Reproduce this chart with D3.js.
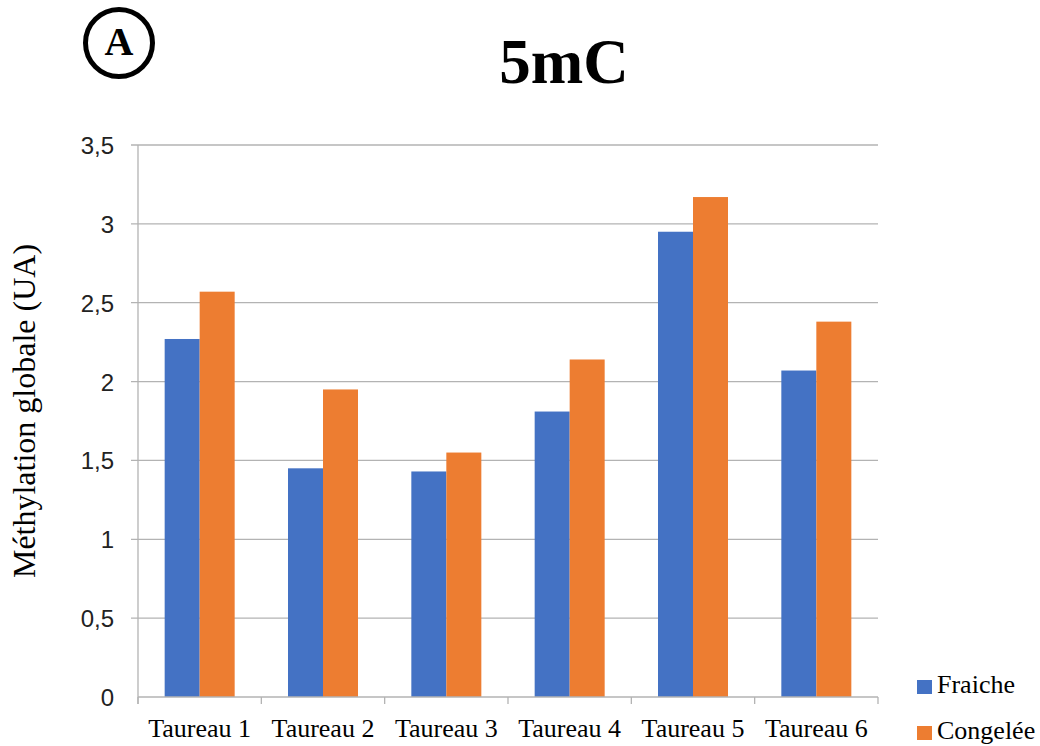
<!DOCTYPE html>
<html><head><meta charset="utf-8">
<script src="https://cdn.jsdelivr.net/npm/d3@7"></script>
<style>body{margin:0;background:#fff;} svg{display:block;}</style>
</head><body>
<svg id="c" width="1040" height="746"></svg>
<script>
const categories = ["Taureau 1","Taureau 2","Taureau 3","Taureau 4","Taureau 5","Taureau 6"];
const seriesNames = ["Fraiche","Congelée"];
const fraiche = [2.27, 1.45, 1.43, 1.81, 2.95, 2.07];
const congelee = [2.57, 1.95, 1.55, 2.14, 3.17, 2.38];
const yTicks = [0, 0.5, 1, 1.5, 2, 2.5, 3, 3.5];
const colors = ["#4472C4", "#ED7D31"];

const svg = d3.select("#c");
const L = 138, R = 878, T = 145, B = 697;
const x = d3.scaleBand().domain(categories).range([L, R]).paddingInner(0).paddingOuter(0);
const xs = d3.scaleBand().domain(seriesNames).range([0, 70]);
const y = d3.scaleLinear().domain([0, 3.5]).range([B, T]);
const grid = "#b3b3b3";
const serif = "'Liberation Serif', 'Times New Roman', serif";

// gridlines
svg.append("g").selectAll("line").data(yTicks.filter(d=>d>0)).join("line")
  .attr("x1", L-7).attr("x2", R).attr("y1", d=>y(d)).attr("y2", d=>y(d))
  .attr("stroke", grid).attr("stroke-width", 1.3);
// y axis line
svg.append("line").attr("x1", L).attr("x2", L).attr("y1", T).attr("y2", B+7)
  .attr("stroke", grid).attr("stroke-width", 1.3);

// y tick labels
const fmt = d => String(d).replace(".", ",");
svg.append("g").selectAll("text").data(yTicks).join("text")
  .attr("x", 114).attr("y", d=>y(d)+9).attr("text-anchor","end")
  .attr("font-family","'Liberation Sans', Arial, sans-serif").attr("font-size",24).attr("fill","#222")
  .text(fmt);

// bars
const data = categories.map((c,i)=>({cat:c, vals:[fraiche[i], congelee[i]]}));
const g = svg.append("g");
data.forEach(d=>{
  const gx = x(d.cat) + (x.bandwidth()-70)/2;
  g.selectAll(null).data(d.vals.map((v,j)=>({v, s:seriesNames[j], j}))).join("rect")
    .attr("x", e=>gx + xs(e.s)).attr("width", xs.bandwidth())
    .attr("y", e=>y(e.v)).attr("height", e=>B - y(e.v))
    .attr("fill", e=>colors[e.j]);
});

// x axis line and ticks
svg.append("line").attr("x1", L).attr("x2", R).attr("y1", B).attr("y2", B)
  .attr("stroke", grid).attr("stroke-width", 1.3);
const xt = categories.map(c=>x(c)).concat([R]);
svg.append("g").selectAll("line").data(xt).join("line")
  .attr("x1", d=>d).attr("x2", d=>d).attr("y1", B).attr("y2", B+7)
  .attr("stroke", grid).attr("stroke-width", 1.3);
svg.append("g").selectAll("text").data(categories).join("text")
  .attr("x", d=>x(d)+x.bandwidth()/2).attr("y", 737).attr("text-anchor","middle")
  .attr("font-family",serif).attr("font-size",26).attr("fill","#000")
  .text(d=>d);

// y label
svg.append("text").attr("transform","translate(35,411) rotate(-90)").attr("text-anchor","middle")
  .attr("font-family",serif).attr("font-size",32).attr("fill","#000")
  .text("Méthylation globale (UA)");

// title
svg.append("text").attr("x",564).attr("y",83).attr("text-anchor","middle")
  .attr("font-family",serif).attr("font-weight","bold").attr("font-size",63)
  .text("5mC");

// circle A
svg.append("circle").attr("cx",119).attr("cy",43).attr("r",33.5).attr("fill","none").attr("stroke","#000").attr("stroke-width",5);
svg.append("text").attr("x",119).attr("y",55).attr("text-anchor","middle")
  .attr("font-family",serif).attr("font-weight","bold").attr("font-size",40)
  .text("A");

// legend
const leg = svg.append("g").selectAll("g").data(seriesNames).join("g")
  .attr("transform",(d,i)=>`translate(917,${680 + i*46})`);
leg.append("rect").attr("width",15).attr("height",14).attr("fill",(d,i)=>colors[i]);
leg.append("text").attr("x",20).attr("y",13).attr("font-family",serif)
  .attr("font-size",26).attr("fill","#000").text(d=>d);
</script>
</body></html>
